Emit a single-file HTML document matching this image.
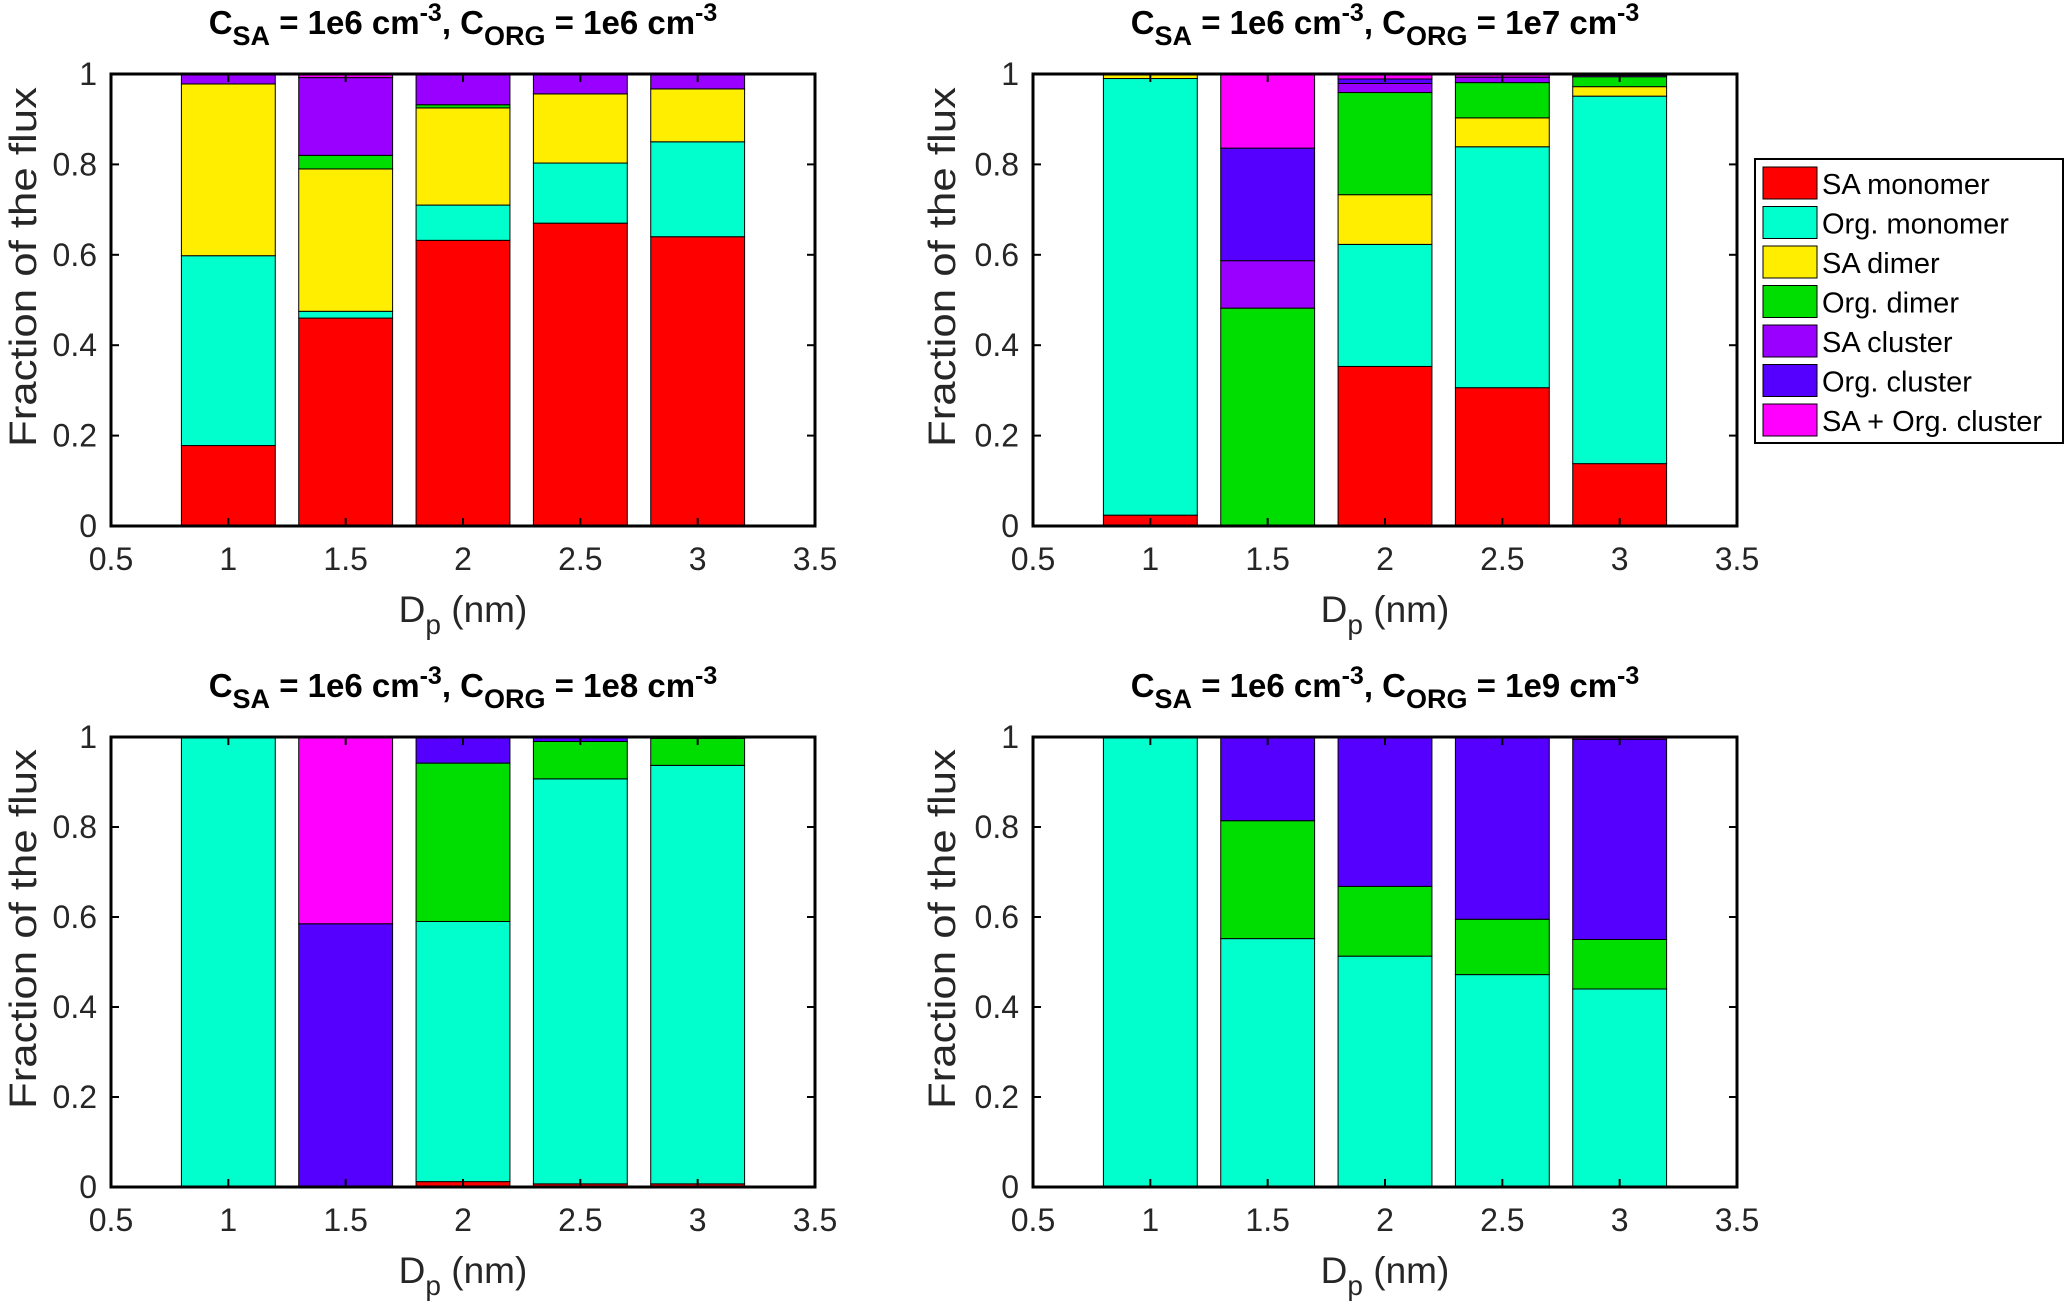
<!DOCTYPE html>
<html><head><meta charset="utf-8"><style>
html,body{margin:0;padding:0;background:#fff;}
svg{display:block;font-family:"Liberation Sans",Arial,sans-serif;}
</style></head><body>
<svg id="fig" width="2067" height="1312" viewBox="0 0 2067 1312" xmlns="http://www.w3.org/2000/svg"></svg>
<script>
const seriesNames = ["SA monomer","Org. monomer","SA dimer","Org. dimer","SA cluster","Org. cluster","SA + Org. cluster"];
const seriesColors = ["#ff0000","#00ffcc","#ffee00","#00dd00","#9900ff","#5500ff","#ff00ff"];
const categories = [1,1.5,2,2.5,3];
const xTicks = [0.5,1,1.5,2,2.5,3,3.5];
const xTickLabels = ["0.5","1","1.5","2","2.5","3","3.5"];
const yTicks = [0,0.2,0.4,0.6,0.8,1];
const yTickLabels = ["0","0.2","0.4","0.6","0.8","1"];
const orgConc = ["1e6","1e7","1e8","1e9"];
const panel1 = [
 [0.178,0.42,0.38,0,0.022,0,0],
 [0.46,0.015,0.315,0.03,0.172,0,0.008],
 [0.632,0.078,0.215,0.007,0.068,0,0],
 [0.67,0.133,0.153,0,0.044,0,0],
 [0.64,0.21,0.117,0,0.033,0,0]];
const panel2 = [
 [0.024,0.966,0.01,0,0,0,0],
 [0,0,0,0.482,0.105,0.249,0.164],
 [0.353,0.27,0.11,0.226,0.02,0.01,0.011],
 [0.306,0.533,0.064,0.078,0.012,0,0.007],
 [0.138,0.813,0.021,0.022,0.003,0.003,0]];
const panel3 = [
 [0,1,0,0,0,0,0],
 [0,0,0,0,0,0.585,0.415],
 [0.012,0.578,0,0.352,0,0.058,0],
 [0.007,0.9,0,0.083,0,0.01,0],
 [0.007,0.93,0,0.06,0,0.003,0]];
const panel4 = [
 [0,1,0,0,0,0,0],
 [0,0.552,0,0.262,0,0.186,0],
 [0,0.513,0,0.155,0,0.332,0],
 [0,0.472,0,0.123,0,0.405,0],
 [0,0.44,0,0.11,0,0.445,0.005]];
const panels = [panel1,panel2,panel3,panel4];
const layout = [
 {l:111,r:815,t:74,b:526},
 {l:1033,r:1737,t:74,b:526},
 {l:111,r:815,t:737,b:1187},
 {l:1033,r:1737,t:737,b:1187}];
const barHalf = 0.2;
const NS="http://www.w3.org/2000/svg";
const svg=document.getElementById('fig');
function mk(tag,attrs,parent){const e=document.createElementNS(NS,tag);for(const k in attrs)e.setAttribute(k,attrs[k]);(parent||svg).appendChild(e);return e;}
panels.forEach((data,pi)=>{
  const L=layout[pi];
  const g=mk('g',{});
  
  
  const xs=v=>L.l+(v-0.5)/3*(L.r-L.l);
  const ys=v=>L.b-v*(L.b-L.t);
  data.forEach((vals,ci)=>{
    let acc=0;
    vals.forEach((v,si)=>{
      if(v<=0)return;
      const r=mk('rect',{x:xs(categories[ci]-barHalf),y:ys(acc+v),width:xs(categories[ci]+barHalf)-xs(categories[ci]-barHalf),height:ys(acc)-ys(acc+v),fill:seriesColors[si],stroke:'#000','stroke-width':1},g);
      
      
      acc+=v;
    });
  });
  const box=mk('rect',{x:L.l,y:L.t,width:L.r-L.l,height:L.b-L.t,fill:'none',stroke:'#000','stroke-width':3},g);
  
  
  xTicks.forEach((t,i)=>{
    mk('line',{x1:xs(t),x2:xs(t),y1:L.b,y2:L.b-8,stroke:'#000','stroke-width':2},g);
    mk('line',{x1:xs(t),x2:xs(t),y1:L.t,y2:L.t+8,stroke:'#000','stroke-width':2},g);
    const tx=mk('text',{x:xs(t),y:L.b+44,'font-size':32,'text-anchor':'middle',fill:'#262626'},g);
    tx.textContent=xTickLabels[i];
    
    
  });
  yTicks.forEach((t,i)=>{
    mk('line',{x1:L.l,x2:L.l+8,y1:ys(t),y2:ys(t),stroke:'#000','stroke-width':2},g);
    mk('line',{x1:L.r,x2:L.r-8,y1:ys(t),y2:ys(t),stroke:'#000','stroke-width':2},g);
    const tx=mk('text',{x:L.l-14,y:ys(t)+11,'font-size':32,'text-anchor':'end',fill:'#262626'},g);
    tx.textContent=yTickLabels[i];
    
    
  });
  const cx=(L.l+L.r)/2;
  const xl=mk('text',{x:cx,y:L.b+96,'font-size':37,'text-anchor':'middle',fill:'#262626'},g);
  xl.innerHTML='D<tspan dy="12" font-size="28">p</tspan><tspan dy="-12"> (nm)</tspan>';
  
  
  const yx = pi%2==1 ? L.l-78 : 36;
  const yl=mk('text',{x:0,y:0,'font-size':38,'text-anchor':'middle',fill:'#262626',textLength:360,lengthAdjust:'spacingAndGlyphs',transform:`translate(${yx},${(L.t+L.b)/2-33}) rotate(-90)`},g);
  yl.textContent='Fraction of the flux';
  
  
  const tt=mk('text',{x:cx,y:L.t-40,'font-size':33,'font-weight':'bold','text-anchor':'middle',fill:'#000'},g);
  tt.innerHTML=`C<tspan dy="11" font-size="27">SA</tspan><tspan dy="-11"> = 1e6 cm</tspan><tspan dy="-13" font-size="25">-3</tspan><tspan dy="13">, C</tspan><tspan dy="11" font-size="27">ORG</tspan><tspan dy="-11"> = ${orgConc[pi]} cm</tspan><tspan dy="-13" font-size="25">-3</tspan>`;
  
  
});
const lg=mk('g',{});


mk('rect',{x:1755,y:159,width:308,height:284,fill:'#fff',stroke:'#000','stroke-width':2},lg);
seriesNames.forEach((n,i)=>{
  const y=167+i*39.5;
  const sw=mk('rect',{x:1763,y:y,width:54,height:32,fill:seriesColors[i],stroke:'#000','stroke-width':1},lg);
  
  
  const t=mk('text',{x:1822,y:y+27,'font-size':29,fill:'#000'},lg);
  t.textContent=n;
  
  
});
</script>
</body></html>
